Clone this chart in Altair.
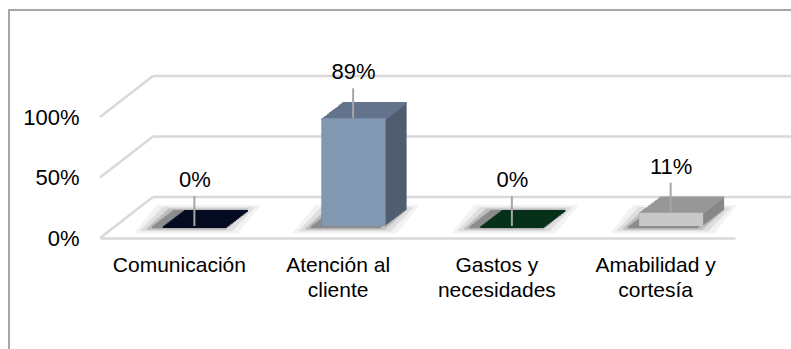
import altair as alt
import pandas as pd

# ---- data ----
categories = ["Comunicación", "Atención al cliente", "Gastos y necesidades", "Amabilidad y cortesía"]
values = [0, 89, 0, 11]
value_labels = ["0%", "89%", "0%", "11%"]
front_colors = ["#0b1226", "#8197b2", "#0d2e1a", "#c8c8c8"]
top_colors = ["#050b20", "#63738b", "#06301a", "#979797"]
side_colors = ["#030817", "#505d71", "#04200f", "#878787"]
ticks = [0, 50, 100]

df = pd.DataFrame({
    "cat": categories, "value": values, "label": value_labels,
    "front": front_colors, "top": top_colors, "side": side_colors,
})
grid = pd.DataFrame({"tick": ticks})
one = pd.DataFrame({"a": [0]})

# ---- layout ----
W, H = 635, 121
PAD_L, PAD_T = 100, 117
BAR_W = 64
BASE_DX, BASE_DY = 15.5, -12      # depth position of bar front face
DEPTH_DX, DEPTH_DY = 21, -16       # bar depth
BACK_DX, BACK_DY = 53, -41         # back wall
N = 14
FONT = "Liberation Sans"
GRID = "#d9d9d9"

yscale = alt.Scale(domain=[0, 100], nice=False, zero=True)
yaxis = alt.Axis(domain=False, ticks=False, grid=False, labelPadding=21,
                 values=ticks, labelExpr="datum.value + '%'", title=None,
                 labelFontSize=22, labelFont=FONT, labelColor="#000000")
xaxis = alt.Axis(domain=True, domainColor=GRID, domainWidth=2.5, ticks=False,
                 labelPadding=16, labelFontSize=21, labelFont=FONT, labelColor="#000000",
                 labelAngle=0, labelLimit=0, labelLineHeight=25, grid=False, title=None,
                 labelExpr="indexof(datum.label,' ')<0 ? datum.label : "
                           "[slice(datum.label,0,lastindexof(datum.label,' ')), "
                           "slice(datum.label,lastindexof(datum.label,' ')+1)]")
xscale = alt.Scale(domain=categories, paddingInner=0, paddingOuter=0)


def X():
    return alt.X("cat:N", sort=categories, scale=xscale, axis=xaxis)


def Y(field):
    return alt.Y(f"{field}:Q", scale=yscale, axis=yaxis)


layers = []

# frame border (cropped box)
layers.append(alt.Chart(one).mark_rule(color="#a6a6a6", strokeWidth=2).encode(
    x=alt.value(-91), x2=alt.value(700), y=alt.value(-107)))
layers.append(alt.Chart(one).mark_rule(color="#a6a6a6", strokeWidth=2).encode(
    x=alt.value(-91), y=alt.value(-108), y2=alt.value(240)))

# back wall gridlines
layers.append(alt.Chart(grid).mark_rule(color=GRID, strokeWidth=2.5, yOffset=BACK_DY).encode(
    y=Y("tick"), x=alt.value(BACK_DX), x2=alt.value(700)))
# side diagonals
layers.append(alt.Chart(grid).mark_rule(color=GRID, strokeWidth=2.5, y2Offset=BACK_DY).encode(
    y=Y("tick"), y2=alt.Y2("tick"), x=alt.value(0), x2=alt.value(BACK_DX)))

# soft shadows (layered flat parallelograms, lightest first)
shadow_levels = [(40, "#f2f2f2", 5), (28, "#dedede", 3), (16, "#bdbdbd", 1.5), (6, "#8c8c8c", 0)]
for extra, col, grow in shadow_levels:
    for i in range(N + 1):
        t = i / N
        dx = BASE_DX - 8 + DEPTH_DX * t
        dy = BASE_DY + grow - (DEPTH_DY * -1 + 2 * grow) * t
        layers.append(alt.Chart(df).mark_bar(
            width=BAR_W + extra, color=col, xOffset=dx, x2Offset=dx,
            yOffset=dy, y2Offset=dy + 2.2).encode(
            x=X(), y=alt.Y(datum=0, scale=yscale, axis=yaxis), y2=alt.Y2(datum=0)))

# side faces (swept bar in side colour)
for i in range(N + 1):
    t = i / N
    dx = BASE_DX + DEPTH_DX * t
    dy = BASE_DY + DEPTH_DY * t
    layers.append(alt.Chart(df).mark_bar(
        width=BAR_W, xOffset=dx, x2Offset=dx, yOffset=dy, y2Offset=dy).encode(
        x=X(), y=Y("value"), y2=alt.Y2(datum=0), color=alt.Color("side:N", scale=None)))

# top faces (swept thin bar at bar top in top colour)
for i in range(N + 1):
    t = i / N
    dx = BASE_DX + DEPTH_DX * t
    dy = BASE_DY + DEPTH_DY * t
    layers.append(alt.Chart(df).mark_bar(
        width=BAR_W, xOffset=dx, x2Offset=dx, yOffset=dy, y2Offset=dy + 2).encode(
        x=X(), y=Y("value"), y2=alt.Y2("value"), color=alt.Color("top:N", scale=None)))

# front faces
layers.append(alt.Chart(df).mark_bar(
    width=BAR_W, xOffset=BASE_DX, x2Offset=BASE_DX, yOffset=BASE_DY, y2Offset=BASE_DY).encode(
    x=X(), y=Y("value"), y2=alt.Y2(datum=0), color=alt.Color("front:N", scale=None)))

# leader lines
layers.append(alt.Chart(df).mark_rule(
    color="#a6a6a6", strokeWidth=2, xOffset=BASE_DX - 0.5, x2Offset=BASE_DX - 0.5,
    yOffset=BASE_DY, y2Offset=BASE_DY - 30).encode(
    x=X(), y=Y("value"), y2=alt.Y2("value")))

# value labels
layers.append(alt.Chart(df).mark_text(
    font=FONT, fontSize=22, color="#000000", baseline="middle",
    dx=BASE_DX, dy=BASE_DY - 46).encode(
    x=X(), y=Y("value"), text="label:N"))

chart = alt.layer(*layers).properties(
    width=W, height=H,
    autosize=alt.AutoSizeParams(type="none"),
    padding={"left": PAD_L, "top": PAD_T, "right": 791 - PAD_L - W, "bottom": 349 - PAD_T - H},
).configure(
    background="white",
    view=alt.ViewConfig(strokeWidth=0, stroke="transparent"),
)

chart.save("out.html", embed_options={"renderer": "svg", "actions": False})
